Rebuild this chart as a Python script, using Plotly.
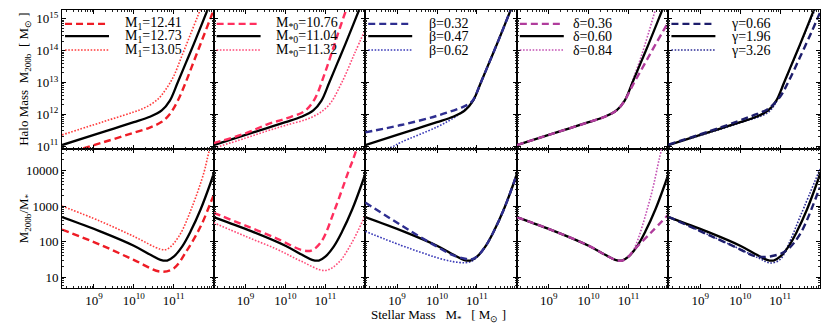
import numpy as np
import plotly.graph_objects as go
from plotly.subplots import make_subplots

# ---------------- data (log10 values) ----------------
# fiducial (black) curve, top row: log M* , log M200b
fid_top_x = [8.2, 9.0, 9.5, 10.0, 10.4, 10.7, 10.9, 11.1, 11.3, 11.5, 11.7, 11.9]
fid_top_y = [11.03, 11.35, 11.55, 11.75, 11.92, 12.12, 12.42, 13.00, 13.60, 14.20, 14.82, 15.45]
# fiducial (black) curve, bottom row: log M* , log(M200b/M*)
fid_bot_x = [8.2, 9.157, 10.0, 10.417, 10.669, 10.837, 11.0, 11.215, 11.424, 11.676, 11.928, 12.0]
fid_bot_y = [2.69, 2.29, 1.887, 1.63, 1.49, 1.47, 1.58, 1.87, 2.29, 2.91, 3.66, 3.90]

# panel 1 : M1
m1_lo_top_x = [8.2, 9.0, 9.5, 10.0, 10.4, 10.7, 10.9, 11.1, 11.3, 11.5, 11.7, 11.9, 12.0]
m1_lo_top_y = [10.72, 11.03, 11.22, 11.42, 11.58, 11.76, 12.00, 12.42, 13.00, 13.65, 14.30, 14.95, 15.28]
m1_hi_top_x = [8.2, 9.0, 9.5, 10.0, 10.3, 10.6, 10.8, 11.0, 11.2, 11.4, 11.6, 11.7]
m1_hi_top_y = [11.35, 11.67, 11.87, 12.07, 12.22, 12.47, 12.78, 13.20, 13.82, 14.45, 15.08, 15.40]
m1_lo_bot_x = [8.2, 9.157, 9.996, 10.669, 11.0, 11.34, 11.676, 11.928, 12.0]
m1_lo_bot_y = [2.34, 1.915, 1.49, 1.16, 1.25, 1.77, 2.43, 3.10, 3.30]
m1_hi_bot_x = [8.2, 9.157, 9.996, 10.669, 10.837, 11.13, 11.47, 11.76, 11.84, 11.9]
m1_hi_bot_y = [3.00, 2.575, 2.15, 1.79, 1.79, 2.15, 3.00, 3.95, 4.32, 4.60]

# panel 2 : M*0
ms_lo_top_x = [8.2, 9.0, 9.56, 10.0, 10.48, 10.73, 10.99, 11.24, 11.5, 11.6]
ms_lo_top_y = [11.09, 11.40, 11.69, 11.86, 12.10, 12.47, 13.30, 14.24, 15.20, 15.50]
ms_hi_top_x = [8.2, 9.0, 9.56, 10.0, 10.65, 11.07, 11.41, 11.74, 12.0]
ms_hi_top_y = [10.93, 11.25, 11.48, 11.65, 11.90, 12.26, 12.99, 13.93, 14.66]
ms_lo_bot_x = [8.2, 9.0, 9.8, 10.40, 10.65, 10.90, 11.24, 11.575, 11.70, 11.8]
ms_lo_bot_y = [2.81, 2.45, 2.08, 1.77, 1.75, 2.00, 2.91, 3.95, 4.32, 4.65]
ms_hi_bot_x = [8.2, 9.0, 9.8, 10.4, 10.99, 11.32, 11.66, 11.99]
ms_hi_bot_y = [2.53, 2.15, 1.78, 1.45, 1.19, 1.40, 1.96, 2.72]

# panel 3 : beta
b_lo_top_x = [8.2, 9.1, 10.0, 10.61, 10.78, 10.9, 11.1, 11.3, 11.5, 11.7, 11.9]
b_lo_top_y = [11.43, 11.66, 11.95, 12.21, 12.31, 12.44, 13.00, 13.60, 14.20, 14.82, 15.45]
b_hi_top_x = [8.6, 8.85, 9.1, 10.0, 10.5, 10.78, 10.9, 11.1, 11.3, 11.5, 11.7, 11.9]
b_hi_top_y = [10.85, 10.96, 11.12, 11.60, 11.95, 12.25, 12.40, 13.00, 13.60, 14.20, 14.82, 15.45]
b_lo_bot_x = [8.2, 9.1, 9.6, 10.0, 10.4, 10.7, 10.85, 11.0, 11.215, 11.424, 11.676, 11.928, 12.0]
b_lo_bot_y = [3.10, 2.46, 2.12, 1.86, 1.62, 1.52, 1.50, 1.58, 1.87, 2.29, 2.91, 3.66, 3.90]
b_hi_bot_x = [8.2, 9.1, 9.6, 10.0, 10.4, 10.7, 10.85, 11.0, 11.215, 11.424, 11.676, 11.928, 12.0]
b_hi_bot_y = [2.29, 1.895, 1.70, 1.55, 1.44, 1.41, 1.44, 1.56, 1.87, 2.29, 2.91, 3.66, 3.90]

# panel 4 : delta
d_lo_top_x = [8.2, 9.0, 9.5, 10.0, 10.4, 10.7, 10.9, 11.1, 11.3, 11.5, 11.7, 12.0]
d_lo_top_y = [11.03, 11.35, 11.55, 11.75, 11.92, 12.12, 12.42, 12.90, 13.35, 13.80, 14.25, 14.90]
d_hi_top_x = [8.2, 9.0, 9.5, 10.0, 10.4, 10.7, 10.9, 11.1, 11.3, 11.5, 11.7, 11.8]
d_hi_top_y = [11.03, 11.35, 11.55, 11.75, 11.92, 12.12, 12.42, 13.05, 13.75, 14.55, 15.40, 15.80]
d_lo_bot_x = [8.2, 9.157, 10.0, 10.417, 10.669, 10.837, 11.0, 11.14, 11.56, 12.0]
d_lo_bot_y = [2.69, 2.29, 1.887, 1.63, 1.49, 1.47, 1.58, 1.77, 2.25, 2.76]
d_hi_bot_x = [8.2, 9.157, 10.0, 10.417, 10.669, 10.837, 11.0, 11.14, 11.56, 11.77, 11.85]
d_hi_bot_y = [2.69, 2.29, 1.887, 1.63, 1.49, 1.47, 1.60, 1.80, 3.28, 4.32, 4.70]

# panel 5 : gamma
g_lo_top_x = [8.2, 9.5, 10.3, 10.7, 11.0, 11.2, 11.5, 11.8, 12.0]
g_lo_top_y = [11.04, 11.58, 11.95, 12.17, 12.55, 13.00, 13.80, 14.62, 15.20]
g_hi_top_x = [8.2, 10.0, 10.7, 10.9, 11.1, 11.3, 11.5, 11.7, 11.95]
g_hi_top_y = [11.03, 11.73, 12.06, 12.38, 12.98, 13.58, 14.18, 14.78, 15.50]
g_lo_bot_x = [8.2, 9.84, 10.43, 10.93, 11.18, 11.52, 11.98, 12.0]
g_lo_bot_y = [2.70, 1.87, 1.58, 1.63, 1.77, 2.25, 3.47, 3.52]
g_hi_bot_x = [8.2, 9.84, 10.5, 10.76, 11.0, 11.2, 11.52, 12.0]
g_hi_bot_y = [2.70, 1.87, 1.52, 1.40, 1.50, 1.90, 2.75, 4.04]

legend_labels = [
    ["M<sub>1</sub>=12.41", "M<sub>1</sub>=12.73", "M<sub>1</sub>=13.05"],
    ["M<sub>*0</sub>=10.76", "M<sub>*0</sub>=11.04", "M<sub>*0</sub>=11.32"],
    ["β=0.32", "β=0.47", "β=0.62"],
    ["δ=0.36", "δ=0.60", "δ=0.84"],
    ["γ=0.66", "γ=1.96", "γ=3.26"],
]
panel_colors = [("#ee1c25", "#ff3b3b"), ("#ff2f5e", "#ff4a78"), ("#2e2e90", "#3a3ab8"),
                ("#b03c9c", "#c452b4"), ("#1d1d6b", "#2c2c96")]

x_ticks = [1e9, 1e10, 1e11]
x_tick_text = ["10<sup>9</sup>", "10<sup>10</sup>", "10<sup>11</sup>"]
y_top_ticks = [1e11, 1e12, 1e13, 1e14, 1e15]
y_top_text = ["10<sup>11</sup>", "10<sup>12</sup>", "10<sup>13</sup>", "10<sup>14</sup>", "10<sup>15</sup>"]
y_bot_ticks = [10, 100, 1000, 10000]
y_bot_text = ["10", "100", "1000", "10000"]

# ---------------- figure ----------------
fig = make_subplots(rows=2, cols=5, horizontal_spacing=0, vertical_spacing=0)

DASH = "7px,4px"
DOT = "1.6px,1.6px"

top_sets = [
    (m1_lo_top_x, m1_lo_top_y, m1_hi_top_x, m1_hi_top_y),
    (ms_lo_top_x, ms_lo_top_y, ms_hi_top_x, ms_hi_top_y),
    (b_lo_top_x, b_lo_top_y, b_hi_top_x, b_hi_top_y),
    (d_lo_top_x, d_lo_top_y, d_hi_top_x, d_hi_top_y),
    (g_lo_top_x, g_lo_top_y, g_hi_top_x, g_hi_top_y),
]
bot_sets = [
    (m1_lo_bot_x, m1_lo_bot_y, m1_hi_bot_x, m1_hi_bot_y),
    (ms_lo_bot_x, ms_lo_bot_y, ms_hi_bot_x, ms_hi_bot_y),
    (b_lo_bot_x, b_lo_bot_y, b_hi_bot_x, b_hi_bot_y),
    (d_lo_bot_x, d_lo_bot_y, d_hi_bot_x, d_hi_bot_y),
    (g_lo_bot_x, g_lo_bot_y, g_hi_bot_x, g_hi_bot_y),
]


def p(v):
    return 10 ** np.asarray(v, dtype=float)


for c in range(5):
    cdash, cdot = panel_colors[c]
    for row, sets, fx, fy in [(1, top_sets, fid_top_x, fid_top_y), (2, bot_sets, fid_bot_x, fid_bot_y)]:
        lx, ly, hx, hy = sets[c]
        fig.add_trace(go.Scatter(x=p(hx), y=p(hy), mode="lines", line_shape="spline",
                                 line=dict(color=cdot, width=1.6, dash=DOT), showlegend=False),
                      row=row, col=c + 1)
        fig.add_trace(go.Scatter(x=p(fx), y=p(fy), mode="lines", line_shape="spline",
                                 line=dict(color="black", width=2.3), showlegend=False),
                      row=row, col=c + 1)
        fig.add_trace(go.Scatter(x=p(lx), y=p(ly), mode="lines", line_shape="spline",
                                 line=dict(color=cdash, width=2.4, dash=DASH), showlegend=False),
                      row=row, col=c + 1)

axis_common = dict(type="log", showline=True, linecolor="black", linewidth=1.0, mirror="allticks",
                   ticks="inside", ticklen=4, tickwidth=0.9, tickcolor="black",
                   showgrid=False, zeroline=False, tickmode="array",
                   minor=dict(ticks="inside", ticklen=2, tickwidth=0.5, tickcolor="#222222",
                              dtick="D1", showgrid=False),
                   tickfont=dict(family="Liberation Serif", size=13, color="black"))

for r in (1, 2):
    for c in range(1, 6):
        fig.update_xaxes(axis_common, range=[8.2, 12.0], tickvals=x_ticks, ticktext=x_tick_text,
                         showticklabels=(r == 2), row=r, col=c)
        if r == 1:
            fig.update_yaxes(axis_common, range=[10.906, 15.28], tickvals=y_top_ticks, ticktext=y_top_text,
                             showticklabels=(c == 1), row=r, col=c)
        else:
            fig.update_yaxes(axis_common, range=[0.70, 4.60], tickvals=y_bot_ticks, ticktext=y_bot_text,
                             showticklabels=(c == 1), row=r, col=c)

# legends inside the top panels (drawn as line samples + text)
legend_rows_y = [0.900, 0.812, 0.712]
text_x = [0.40, 0.40, 0.41, 0.36, 0.40]
for c in range(5):
    cdash, cdot = panel_colors[c]
    styles = [dict(color=cdash, width=2.4, dash=DASH), dict(color="black", width=2.3),
              dict(color=cdot, width=1.6, dash=DOT)]
    xref = "x domain" if c == 0 else f"x{c + 1} domain"
    yref = "y domain" if c == 0 else f"y{c + 1} domain"
    for k in range(3):
        fig.add_shape(type="line", xref=xref, yref=yref, x0=0.02, x1=0.31,
                      y0=legend_rows_y[k], y1=legend_rows_y[k], line=styles[k])
        fig.add_annotation(xref=xref, yref=yref, x=text_x[c], y=legend_rows_y[k], text=legend_labels[c][k],
                           showarrow=False, xanchor="left", yanchor="middle",
                           font=dict(family="Liberation Serif", size=14, color="black"))

serif = dict(family="Liberation Serif", size=13, color="black")
fig.add_annotation(xref="paper", yref="paper", x=-0.049, y=0.752,
                   text="Halo Mass  M<sub>200b</sub>  [ M<sub>⊙</sub> ]", textangle=-90,
                   showarrow=False, xanchor="center", yanchor="middle", font=serif)
fig.add_annotation(xref="paper", yref="paper", x=-0.049, y=0.25,
                   text="M<sub>200b</sub>/M<sub>*</sub>", textangle=-90,
                   showarrow=False, xanchor="center", yanchor="middle", font=serif)
fig.add_annotation(xref="paper", yref="paper", x=0.497, y=-0.1,
                   text="Stellar Mass   M<sub>*</sub>   [ M<sub>⊙</sub> ]",
                   showarrow=False, xanchor="center", yanchor="middle", font=serif)

# the page body adds an 8 px margin, so the figure is 8 px smaller and shifted
fig.update_layout(width=822, height=324, margin=dict(l=54, r=10, t=2, b=44),
                  paper_bgcolor="white", plot_bgcolor="white", showlegend=False)

fig.write_html("out.html")
